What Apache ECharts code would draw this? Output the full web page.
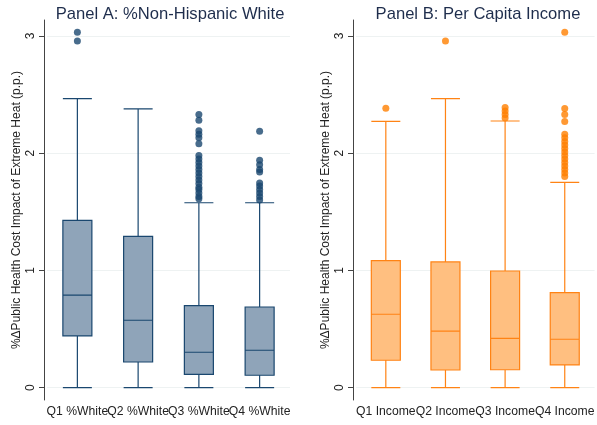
<!DOCTYPE html>
<html><head><meta charset="utf-8">
<script src="https://cdn.jsdelivr.net/npm/echarts@6/dist/echarts.min.js"></script>
<style>html,body{margin:0;padding:0;background:#fff}#c{width:597px;height:425px}</style>
</head><body><div id="c"></div>
<script>
// Panel A: %Non-Hispanic White quartiles
const catsA = ['Q1 %White', 'Q2 %White', 'Q3 %White', 'Q4 %White'];
// [min whisker, Q1, median, Q3, max whisker]
const boxA = [
  [0, 0.441, 0.790, 1.427, 2.464],
  [0, 0.219, 0.575, 1.290, 2.378],
  [0, 0.114, 0.302, 0.699, 1.577],
  [0, 0.106, 0.319, 0.688, 1.577]
];
const outA = [
  [3.03, 2.955],
  [],
  [2.33, 2.28, 2.19, 2.16, 2.13, 2.08, 1.98, 1.95, 1.92, 1.89, 1.86, 1.83, 1.80, 1.77, 1.74, 1.71, 1.69, 1.66, 1.63, 1.61],
  [2.186, 1.94, 1.90, 1.86, 1.84, 1.745, 1.72, 1.69, 1.66, 1.63, 1.60]
];
// Panel B: Per Capita Income quartiles
const catsB = ['Q1 Income', 'Q2 Income', 'Q3 Income', 'Q4 Income'];
const boxB = [
  [0, 0.234, 0.626, 1.083, 2.271],
  [0, 0.151, 0.483, 1.072, 2.464],
  [0, 0.153, 0.421, 0.995, 2.274],
  [0, 0.194, 0.413, 0.810, 1.751]
];
const outB = [
  [2.382],
  [2.955],
  [2.39, 2.36, 2.33, 2.30],
  [3.03, 2.38, 2.33, 2.27, 2.16, 2.13, 2.10, 2.07, 2.04, 2.01, 1.98, 1.95, 1.92, 1.89, 1.86, 1.83, 1.80]
];
const yTicks = [0, 1, 2, 3];
const yTitle = '%ΔPublic Health Cost Impact of Extreme Heat (p.p.)';

const toPts = arr => arr.flatMap((vals, i) => vals.map(v => [i, v]));

const font = 'Liberation Sans, Arial, sans-serif';
function yAxis(gi) {
  return {
    type: 'value', gridIndex: gi, min: -0.105, max: 3.135, offset: 3,
    name: yTitle, nameLocation: 'middle', nameGap: 21, nameRotate: 90,
    nameTextStyle: {fontFamily: font, fontSize: 12, color: '#222'},
    axisLine: {show: true, lineStyle: {color: '#444', width: 1}},
    axisTick: {show: true, length: 5, customValues: yTicks, lineStyle: {color: '#444'}},
    axisLabel: {customValues: yTicks, rotate: 90, margin: 7, fontFamily: font, fontSize: 12, color: '#222'},
    splitLine: {show: true, lineStyle: {color: '#eef2f2', width: 1}}
  };
}
function xAxis(gi, cats) {
  return {
    type: 'category', gridIndex: gi, data: cats, boundaryGap: true,
    axisLine: {show: false}, axisTick: {show: false}, splitLine: {show: false},
    axisLabel: {interval: 0, margin: 6, fontFamily: font, fontSize: 12.2, color: '#222'}
  };
}
const cA = '#1a476f', fA = '#8fa4b9';
const cB = '#ff8314', fB = '#ffbf80';

const option = {
  animation: false,
  title: [
    {text: 'Panel A: %Non-Hispanic White', left: 165, top: 1, textAlign: 'center',
     textStyle: {fontFamily: font, fontSize: 16.6, fontWeight: 'normal', color: '#1e2d4c'}},
    {text: 'Panel B: Per Capita Income', left: 473, top: 1, textAlign: 'center',
     textStyle: {fontFamily: font, fontSize: 16.6, fontWeight: 'normal', color: '#1e2d4c'}}
  ],
  grid: [
    {left: 47, top: 20, width: 243, bottom: 25},
    {left: 356, top: 20, width: 243, bottom: 25}
  ],
  xAxis: [xAxis(0, catsA), xAxis(1, catsB)],
  yAxis: [yAxis(0), yAxis(1)],
  series: [
    {type: 'boxplot', xAxisIndex: 0, yAxisIndex: 0, data: boxA, boxWidth: [29, 29],
     itemStyle: {color: fA, borderColor: cA, borderWidth: 1.2}},
    {type: 'scatter', xAxisIndex: 0, yAxisIndex: 0, data: toPts(outA), symbolSize: 7,
     itemStyle: {color: cA}},
    {type: 'boxplot', xAxisIndex: 1, yAxisIndex: 1, data: boxB, boxWidth: [29, 29],
     itemStyle: {color: fB, borderColor: cB, borderWidth: 1.2}},
    {type: 'scatter', xAxisIndex: 1, yAxisIndex: 1, data: toPts(outB), symbolSize: 7,
     itemStyle: {color: '#ff7f00'}}
  ]
};
echarts.init(document.getElementById('c')).setOption(option);
</script></body></html>
